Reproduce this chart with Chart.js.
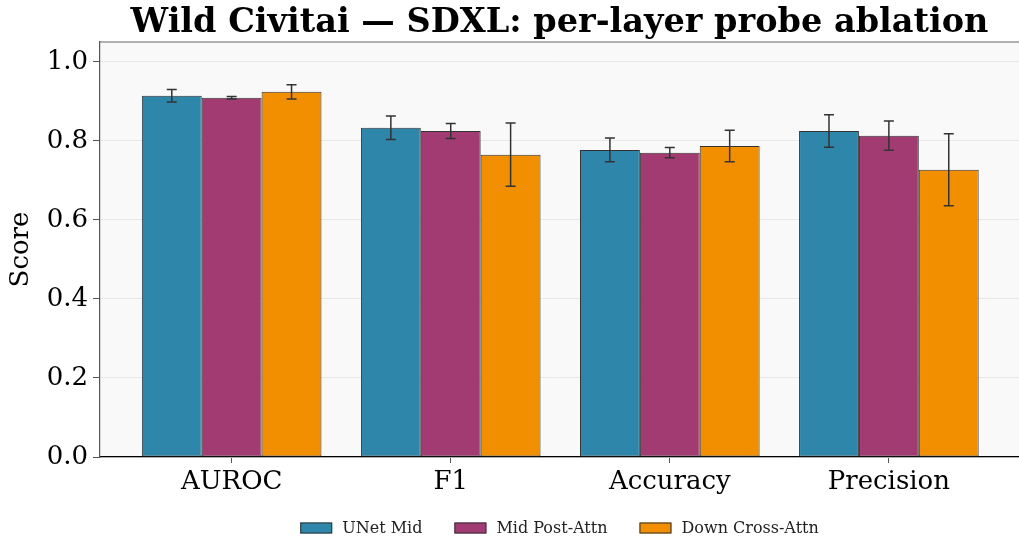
<!DOCTYPE html>
<html>
<head>
<meta charset="utf-8">
<script src="https://cdn.jsdelivr.net/npm/chart.js@4.4.1/dist/chart.umd.min.js"></script>
<style>
  html, body { margin: 0; padding: 0; background: #fff; overflow: hidden; }
  #wrap { width: 1019px; height: 541px; position: relative; }
</style>
</head>
<body>
<div id="wrap"><canvas id="chart"></canvas></div>
<script>
const categories = ['AUROC', 'F1', 'Accuracy', 'Precision'];
const seriesNames = ['UNet Mid', 'Mid Post-Attn', 'Down Cross-Attn'];
const unetMid      = [0.914, 0.833, 0.777, 0.825];
const midPostAttn  = [0.909, 0.825, 0.770, 0.813];
const downCrossAttn = [0.924, 0.765, 0.787, 0.727];
const unetMidErr      = [0.016, 0.030, 0.030, 0.041];
const midPostAttnErr  = [0.003, 0.019, 0.013, 0.037];
const downCrossAttnErr = [0.018, 0.080, 0.040, 0.091];
const yTicks = [0, 0.2, 0.4, 0.6, 0.8, 1.0];
const colors = ['#2E86AB', '#A23B72', '#F18F01'];

const FONT = "'DejaVu Serif', serif";
const values = [unetMid, midPostAttn, downCrossAttn];
const errors = [unetMidErr, midPostAttnErr, downCrossAttnErr];

// фон, верхняя рамка, заголовок и легенда
const backdrop = {
  id: 'backdrop',
  beforeDraw(chart) {
    const { ctx, chartArea: a } = chart;
    ctx.save();
    ctx.fillStyle = '#f9f9f9';
    ctx.fillRect(a.left, a.top, a.right - a.left, a.bottom - a.top);
    ctx.restore();
  },
  afterDraw(chart) {
    const { ctx, chartArea: a } = chart;
    ctx.save();
    ctx.strokeStyle = '#666';
    ctx.lineWidth = 1.2;
    ctx.beginPath();
    ctx.moveTo(a.left, a.top);
    ctx.lineTo(a.right, a.top);
    ctx.stroke();

    const cx = (a.left + a.right) / 2;
    ctx.fillStyle = '#000';
    ctx.font = 'bold 33.5px ' + FONT;
    ctx.textAlign = 'center';
    ctx.textBaseline = 'alphabetic';
    ctx.fillText('Wild Civitai \u2014 SDXL: per-layer probe ablation', cx, 32);

    // легенда
    ctx.font = '16px ' + FONT;
    const boxW = 32, boxH = 11, gapText = 10, gapItem = 32;
    const widths = seriesNames.map(n => boxW + gapText + ctx.measureText(n).width);
    const total = widths.reduce((s, w) => s + w, 0) + gapItem * (widths.length - 1);
    let x = cx - total / 2;
    const y = 522.5;
    ctx.textAlign = 'left';
    ctx.textBaseline = 'middle';
    seriesNames.forEach((n, i) => {
      ctx.fillStyle = colors[i];
      ctx.fillRect(x, y, boxW, boxH);
      ctx.strokeStyle = '#333';
      ctx.lineWidth = 1;
      ctx.strokeRect(x + 0.5, y + 0.5, boxW - 1, boxH - 1);
      ctx.fillStyle = '#222';
      ctx.fillText(n, x + boxW + gapText, y + boxH / 2 + 1);
      x += widths[i] + gapItem;
    });
    ctx.restore();
  }
};

// планки погрешностей
const errorBars = {
  id: 'errorBars',
  afterDatasetsDraw(chart) {
    const { ctx } = chart;
    const yScale = chart.scales.y;
    ctx.save();
    ctx.strokeStyle = '#333';
    ctx.lineWidth = 1.5;
    chart.data.datasets.forEach((ds, di) => {
      const meta = chart.getDatasetMeta(di);
      meta.data.forEach((bar, i) => {
        const v = values[di][i], e = errors[di][i];
        const yTop = yScale.getPixelForValue(v + e);
        const yBot = yScale.getPixelForValue(v - e);
        const x = bar.x;
        ctx.beginPath();
        ctx.moveTo(x, yTop); ctx.lineTo(x, yBot);
        ctx.moveTo(x - 5, yTop); ctx.lineTo(x + 5, yTop);
        ctx.moveTo(x - 5, yBot); ctx.lineTo(x + 5, yBot);
        ctx.stroke();
      });
    });
    ctx.restore();
  }
};

new Chart(document.getElementById('chart'), {
  type: 'bar',
  data: {
    datasets: seriesNames.map((name, di) => ({
      label: name,
      data: values[di].map((v, i) => ({ x: i, y: v })),
      backgroundColor: colors[di],
      borderColor: '#333',
      borderWidth: 1,
      borderSkipped: false,
      categoryPercentage: 0.82,
      barPercentage: 1.0
    }))
  },
  options: {
    responsive: true,
    maintainAspectRatio: false,
    animation: false,
    layout: { padding: { top: 42, right: 0, bottom: 0, left: 0 } },
    plugins: {
      legend: { display: false },
      title: { display: false },
      tooltip: { enabled: false }
    },
    scales: {
      x: {
        type: 'linear',
        offset: false,
        min: -0.601,
        max: 3.594,
        afterBuildTicks(scale) { scale.ticks = categories.map((_, i) => ({ value: i })); },
        afterFit(scale) { scale.height = 84; },
        ticks: {
          autoSkip: false,
          maxRotation: 0,
          padding: 4,
          color: '#000',
          font: { family: FONT, size: 26 },
          callback: v => categories[v] ?? ''
        },
        grid: { offset: false, drawOnChartArea: false, tickLength: 6, tickColor: '#555', tickWidth: 1 },
        border: { color: '#000', width: 1.2 }
      },
      y: {
        min: 0,
        max: 1.05,
        afterBuildTicks(scale) { scale.ticks = yTicks.map(v => ({ value: v })); },
        afterFit(scale) { scale.width = 100; },
        ticks: {
          padding: 5,
          color: '#000',
          font: { family: FONT, size: 26 },
          callback: v => v.toFixed(1)
        },
        grid: { color: '#e8e8e8', lineWidth: 1, tickLength: 7, tickColor: '#555' },
        border: { color: '#555', width: 1.2 },
        title: {
          display: true,
          text: 'Score',
          color: '#000',
          font: { family: FONT, size: 26 },
          padding: { top: 6, bottom: 0 }
        }
      }
    }
  },
  plugins: [backdrop, errorBars]
});
</script>
</body>
</html>
